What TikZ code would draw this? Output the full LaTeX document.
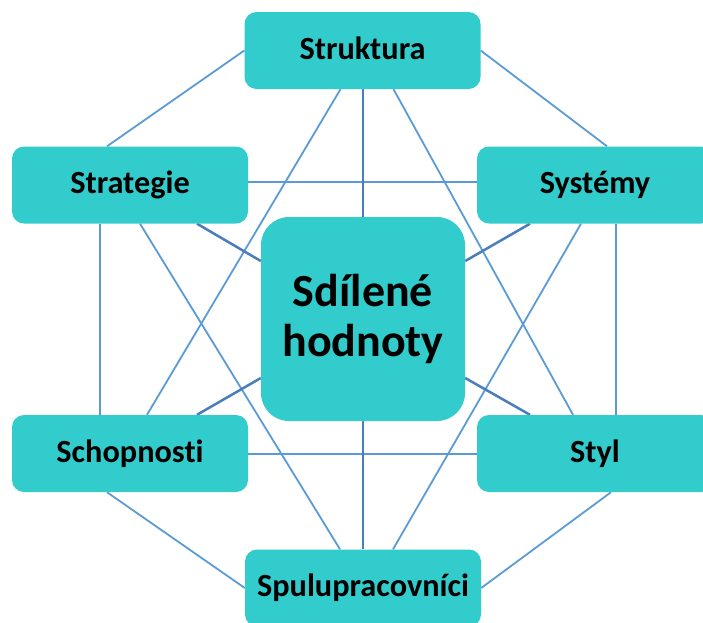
\documentclass[tikz,border=0pt]{standalone}
\usepackage{fontspec}
\setmainfont{Carlito}[Ligatures={NoCommon}]
\usetikzlibrary{backgrounds}
\definecolor{boxfill}{HTML}{33CCCC}
\definecolor{linklight}{HTML}{5B9BD5}
\definecolor{linkdark}{HTML}{4A7EBB}
\begin{document}
\begin{tikzpicture}[x=1pt,y=-1pt,
  item/.style={fill=boxfill, rounded corners=12pt, minimum width=236pt,
    minimum height=77pt, inner sep=0pt, text height=24pt, text depth=7pt,
    font=\fontsize{32.3}{37}\selectfont\bfseries},
  core/.style={fill=boxfill, rounded corners=28pt, minimum width=204pt,
    minimum height=204pt, inner sep=0pt, align=center,
    font=\fontsize{46}{50}\selectfont\bfseries},
  link/.style={draw=linklight, line width=1.8pt},
  spoke/.style={draw=linkdark, line width=2.5pt}]
\clip (0,0) rectangle (703,622);
\useasboundingbox (0,0) rectangle (703,622);

% the seven elements
\node[core] (ctr)   at (363,319)   {Sdílené\\hodnoty};
\node[item] (strk)  at (362.5,50.5) {Struktura};
\node[item] (strat) at (130,185)   {Strategie};
\node[item] (sys)   at (595,185)   {Systémy};
\node[item] (schop) at (130,453.5) {Schopnosti};
\node[item] (styl)  at (595,453.5) {Styl};
\node[item] (spul)  at (363,588)   {Spulupracovníci};

\begin{pgfonlayer}{background}
  % outer ring
  \draw[link] (strk.west) -- ([xshift=-23pt]strat.north);
  \draw[link] (strk.east) -- ([xshift=12pt]sys.north);
  \draw[link] ([xshift=-30pt]strat.south) -- ([xshift=-30pt]schop.north);
  \draw[link] ([xshift=21pt]sys.south) -- ([xshift=21pt]styl.north);
  \draw[link] ([xshift=-23pt]schop.south) -- (spul.west);
  \draw[link] ([xshift=16pt]styl.south) -- (spul.east);
  % cross links
  \draw[link] ([yshift=3pt]strat.east) -- ([yshift=3pt]sys.west);
  \draw[link] ([yshift=-0.5pt]schop.east) -- ([yshift=-0.5pt]styl.west);
  \draw[link] ([xshift=-22pt]strk.south) -- ([xshift=17pt]schop.north);
  \draw[link] ([xshift=31pt]strk.south) -- ([xshift=-22pt]styl.north);
  \draw[link] ([xshift=10pt]strat.south) -- ([xshift=-23pt]spul.north);
  \draw[link] ([xshift=-14pt]sys.south) -- ([xshift=30pt]spul.north);
  % spokes to the centre
  \draw[spoke] ([xshift=0.5pt]strk.south) -- (ctr.north);
  \draw[spoke] (spul.north) -- (ctr.south);
  \draw[spoke] ([xshift=67pt]strat.south) -- ([yshift=58pt]ctr.west);
  \draw[spoke] ([xshift=-65pt]sys.south) -- ([yshift=58pt]ctr.east);
  \draw[spoke] ([xshift=67pt]schop.north) -- ([yshift=-59pt]ctr.west);
  \draw[spoke] ([xshift=-65pt]styl.north) -- ([yshift=-59pt]ctr.east);
\end{pgfonlayer}
\end{tikzpicture}
\end{document}
